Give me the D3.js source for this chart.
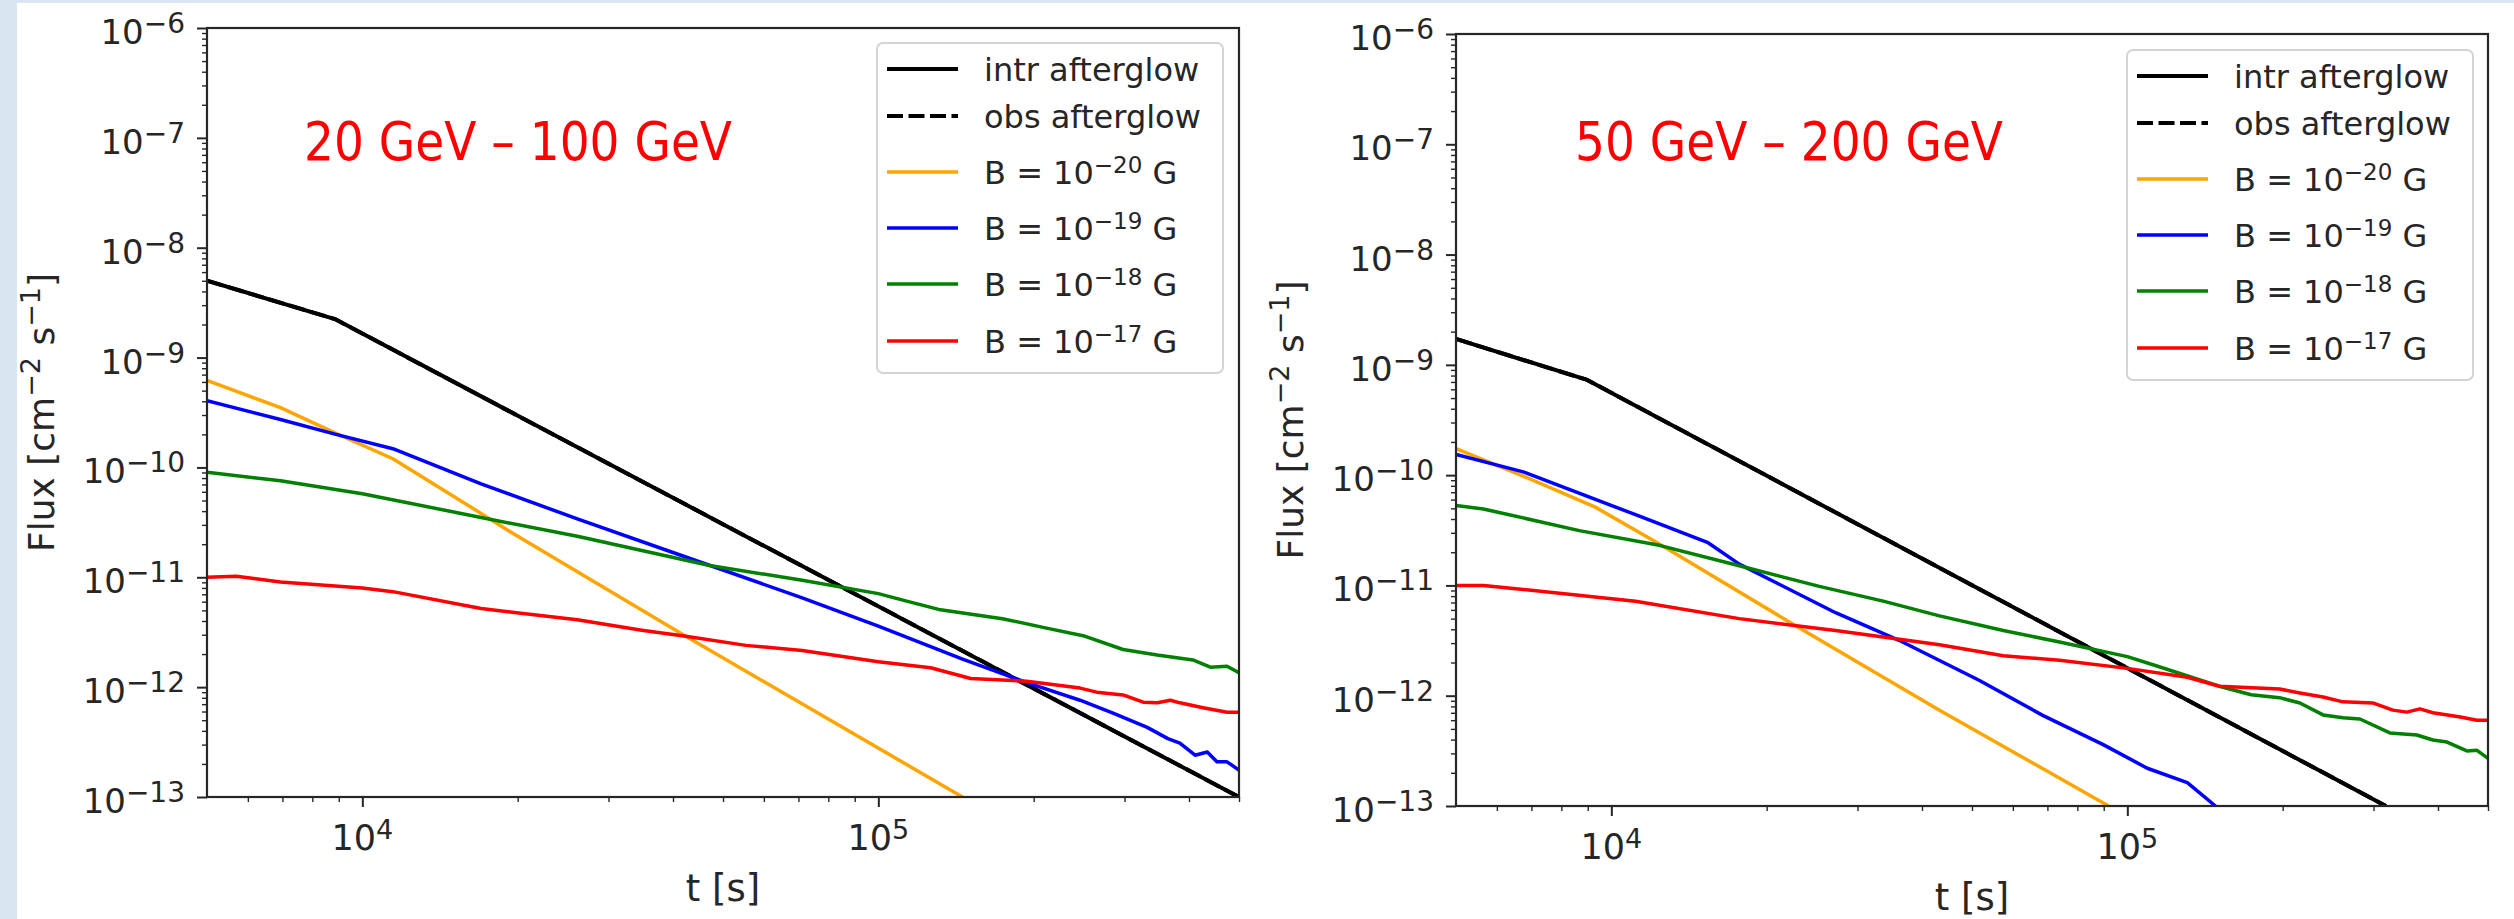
<!DOCTYPE html>
<html>
<head>
<meta charset="utf-8">
<script src="https://cdn.jsdelivr.net/npm/d3@7"></script>
<style>
  body { margin: 0; background: #fff; }
  svg { display: block; }
  text { font-family: "DejaVu Sans", sans-serif; fill: #262626; }
</style>
</head>
<body>
<div id="chart"></div>
<script>
// --- data (t in s, flux in cm^-2 s^-1) ---

// left panel: 20 GeV - 100 GeV
const leftIntrT = [5000, 8850, 500000];
const leftIntrF = [5.0e-9, 2.24e-9, 1.0e-13];
const leftObsT = leftIntrT;
const leftObsF = leftIntrF;
const leftB20T = [5000, 6940, 8850, 11460, 14720, 19600, 42350, 145600];
const leftB20F = [6.2e-10, 3.5e-10, 2.06e-10, 1.2e-10, 5.8e-11, 2.5e-11, 2.9e-12, 1.0e-13];
const leftB19T = [5000, 6940, 8850, 11460, 16990, 26100, 42350, 71200, 100000, 145600, 194000, 246000, 285000, 332000, 364000, 384000, 411000, 434000, 453000, 474000, 500000];
const leftB19F = [4.04e-10, 2.73e-10, 2.01e-10, 1.48e-10, 7.1e-11, 3.4e-11, 1.53e-11, 6.5e-12, 3.6e-12, 1.8e-12, 1.1e-12, 7.6e-13, 5.8e-13, 4.3e-13, 3.4e-13, 3.1e-13, 2.4e-13, 2.57e-13, 2.09e-13, 2.09e-13, 1.76e-13];
const leftB18T = [5000, 6940, 10000, 16990, 26100, 47100, 71200, 100000, 113000, 130900, 174000, 208500, 249400, 298000, 347000, 407000, 440000, 474000, 500000];
const leftB18F = [9.06e-11, 7.55e-11, 5.77e-11, 3.5e-11, 2.36e-11, 1.28e-11, 9.4e-12, 7.1e-12, 6.1e-12, 5.1e-12, 4.2e-12, 3.5e-12, 2.94e-12, 2.2e-12, 1.96e-12, 1.77e-12, 1.52e-12, 1.55e-12, 1.35e-12];
const leftB17T = [5000, 5700, 6940, 10000, 11460, 16990, 26100, 34800, 42350, 55400, 71200, 100000, 126300, 151000, 194000, 246000, 265000, 298000, 326000, 347000, 368000, 384000, 426000, 474000, 500000];
const leftB17F = [1.0e-11, 1.02e-11, 9.06e-12, 8.0e-12, 7.4e-12, 5.2e-12, 4.1e-12, 3.3e-12, 2.9e-12, 2.4e-12, 2.16e-12, 1.7e-12, 1.5e-12, 1.2e-12, 1.13e-12, 9.8e-13, 9.0e-13, 8.5e-13, 7.3e-13, 7.2e-13, 7.6e-13, 7.2e-13, 6.5e-13, 5.9e-13, 5.9e-13];

// right panel: 50 GeV - 200 GeV
const rightIntrT = [5000, 8980, 317000];
const rightIntrF = [1.72e-9, 7.3e-10, 1.0e-13];
const rightObsT = rightIntrT;
const rightObsF = rightIntrF;
const rightB20T = [5000, 6750, 9310, 12390, 22540, 43250, 92000];
const rightB20F = [1.74e-10, 9.8e-11, 5.13e-11, 2.37e-11, 4.43e-12, 7.4e-13, 1.0e-13];
const rightB19T = [5000, 6750, 11140, 15350, 17700, 27200, 36100, 51600, 68700, 89800, 109300, 130700, 148200];
const rightB19F = [1.54e-10, 1.07e-10, 4.38e-11, 2.46e-11, 1.56e-11, 5.66e-12, 3.18e-12, 1.38e-12, 6.6e-13, 3.6e-13, 2.2e-13, 1.63e-13, 1.0e-13];
const rightB18T = [5000, 5650, 8670, 12390, 17700, 25300, 33650, 43250, 57500, 73900, 100000, 113300, 150700, 173800, 197200, 216000, 239500, 261700, 282300, 322700, 364000, 391000, 416500, 455000, 476000, 500000];
const rightB18F = [5.3e-11, 4.94e-11, 3.14e-11, 2.31e-11, 1.51e-11, 9.8e-12, 7.2e-12, 5.3e-12, 3.9e-12, 3.07e-12, 2.26e-12, 1.88e-12, 1.22e-12, 1.02e-12, 9.6e-13, 8.6e-13, 6.7e-13, 6.3e-13, 6.15e-13, 4.6e-13, 4.4e-13, 3.97e-13, 3.8e-13, 3.16e-13, 3.2e-13, 2.7e-13];
const rightB17T = [5000, 5650, 6750, 11140, 17700, 27200, 43250, 57500, 73900, 100000, 130700, 150700, 197200, 216000, 239500, 261700, 299000, 327000, 348000, 369000, 391000, 442000, 476000, 500000];
const rightB17F = [1.0e-11, 1.0e-11, 9.2e-12, 7.2e-12, 5.0e-12, 3.9e-12, 2.9e-12, 2.3e-12, 2.1e-12, 1.77e-12, 1.47e-12, 1.22e-12, 1.15e-12, 1.06e-12, 9.75e-13, 8.8e-13, 8.6e-13, 7.4e-13, 7.1e-13, 7.6e-13, 7.0e-13, 6.4e-13, 6.0e-13, 6.0e-13];

// axes / legend text
const xDomain = [5e3, 5e5];
const yDomain = [1e-13, 1e-6];
const yTickExps = [-13, -12, -11, -10, -9, -8, -7, -6];
const xTickExps = [4, 5];
const seriesNames = ["intr afterglow", "obs afterglow", "-20", "-19", "-18", "-17"];
const seriesColors = ["#000000", "#000000", "#ffa500", "#0000ff", "#008000", "#ff0000"];
const panelTitles = ["20 GeV \u2013 100 GeV", "50 GeV \u2013 200 GeV"];

const svg = d3.select("#chart").append("svg").attr("width", 2514).attr("height", 919);
svg.append("rect").attr("width", 2514).attr("height", 919).attr("fill", "#fff");
// light blue slide border
svg.append("rect").attr("x", 0).attr("y", 0).attr("width", 17).attr("height", 919).attr("fill", "#dae5f2");
svg.append("rect").attr("x", 0).attr("y", 0).attr("width", 2514).attr("height", 3).attr("fill", "#dae5f2");

const minus = "\u2212";

function drawPanel(p, idx) {
    const x = d3.scaleLog().domain(xDomain).range([p.left, p.left + p.width]);
    const y = d3.scaleLog().domain(yDomain).range([p.top + p.height, p.top]);
    const g = svg.append("g");

    const clipId = "clip" + idx;
    g.append("clipPath").attr("id", clipId).append("rect")
        .attr("x", p.left).attr("y", p.top).attr("width", p.width).attr("height", p.height);

    const line = d3.line().x(d => x(d[0])).y(d => y(d[1]));
    const plot = g.append("g").attr("clip-path", `url(#${clipId})`);
    p.series.forEach((s, i) => {
        plot.append("path")
            .datum(d3.zip(s[0], s[1]))
            .attr("d", line)
            .attr("fill", "none")
            .attr("stroke", seriesColors[i])
            .attr("stroke-width", i < 2 ? 4 : 3.5)
            .attr("stroke-linejoin", "round")
            .attr("stroke-dasharray", i === 1 ? "16,5.5" : null);
    });

    // ticks
    const majorY = yTickExps.map(e => Math.pow(10, e));
    const minorY = [];
    yTickExps.slice(0, -1).forEach(e => { for (let m = 2; m < 10; m++) minorY.push(m * Math.pow(10, e)); });
    const majorX = xTickExps.map(e => Math.pow(10, e));
    const minorX = [6e3, 7e3, 8e3, 9e3, 2e4, 3e4, 4e4, 5e4, 6e4, 7e4, 8e4, 9e4, 2e5, 3e5, 4e5, 5e5];

    const styleAxis = (a, w) => {
        a.select(".domain").remove();
        a.selectAll("line").attr("stroke", "#262626").attr("stroke-width", w);
    };
    g.append("g").attr("transform", `translate(${p.left},0)`)
        .call(d3.axisLeft(y).tickValues(majorY).tickSize(10).tickFormat("")).call(a => styleAxis(a, 2));
    g.append("g").attr("transform", `translate(${p.left},0)`)
        .call(d3.axisLeft(y).tickValues(minorY).tickSize(5).tickFormat("")).call(a => styleAxis(a, 1.4));
    g.append("g").attr("transform", `translate(0,${p.top + p.height})`)
        .call(d3.axisBottom(x).tickValues(majorX).tickSize(10).tickFormat("")).call(a => styleAxis(a, 2));
    g.append("g").attr("transform", `translate(0,${p.top + p.height})`)
        .call(d3.axisBottom(x).tickValues(minorX).tickSize(5).tickFormat("")).call(a => styleAxis(a, 1.4));

    // frame
    g.append("rect").attr("x", p.left).attr("y", p.top).attr("width", p.width).attr("height", p.height)
        .attr("fill", "none").attr("stroke", "#262626").attr("stroke-width", 2.2);

    // tick labels
    yTickExps.forEach(e => {
        const t = g.append("text").attr("x", p.left - 22).attr("y", y(Math.pow(10, e)) + 16)
            .attr("text-anchor", "end").attr("font-size", 34);
        t.append("tspan").text("10");
        t.append("tspan").attr("font-size", 28).attr("dy", -11).text(minus + Math.abs(e));
    });
    xTickExps.forEach(e => {
        const t = g.append("text").attr("x", x(Math.pow(10, e))).attr("y", p.top + p.height + 53)
            .attr("text-anchor", "middle").attr("font-size", 35);
        t.append("tspan").text("10");
        t.append("tspan").attr("font-size", 27).attr("dy", -11).text(e);
    });

    // axis titles
    g.append("text").attr("x", p.left + p.width / 2).attr("y", p.top + p.height + 104)
        .attr("text-anchor", "middle").attr("font-size", 37).text("t [s]");
    const yl = g.append("text")
        .attr("transform", `translate(${p.yLabelX},${p.top + p.height / 2}) rotate(-90)`)
        .attr("text-anchor", "middle").attr("font-size", 36);
    yl.append("tspan").text("Flux [cm");
    yl.append("tspan").attr("font-size", 27).attr("dy", -14).text(minus + "2");
    yl.append("tspan").attr("dy", 14).text(" s");
    yl.append("tspan").attr("font-size", 27).attr("dy", -14).text(minus + "1");
    yl.append("tspan").attr("dy", 14).text("]");

    // energy band title
    g.append("text").attr("x", p.titleX).attr("y", 160)
        .attr("font-family", "Lato, 'Open Sans', sans-serif").attr("font-size", 53)
        .attr("textLength", 428).attr("lengthAdjust", "spacingAndGlyphs")
        .style("fill", "#ff0000").text(panelTitles[idx]);

    // legend
    const lg = g.append("g").attr("transform", `translate(${p.legendX},${p.legendY})`);
    lg.append("rect").attr("width", 346).attr("height", 330).attr("rx", 6)
        .attr("fill", "#fff").attr("fill-opacity", 0.8).attr("stroke", "#d4d4d4").attr("stroke-width", 2);
    const rowY = [26, 73, 129, 185, 241, 298];
    seriesNames.forEach((name, i) => {
        lg.append("line").attr("x1", 10).attr("x2", 81).attr("y1", rowY[i]).attr("y2", rowY[i])
            .attr("stroke", seriesColors[i]).attr("stroke-width", i < 2 ? 4 : 3.5)
            .attr("stroke-dasharray", i === 1 ? "16,5.5" : null);
        const t = lg.append("text").attr("x", 107).attr("y", rowY[i] + 12).attr("font-size", 32);
        if (i < 2) {
            t.text(name);
        } else {
            t.append("tspan").text("B = 10");
            t.append("tspan").attr("font-size", 23).attr("dy", -11).text(minus + name.slice(1));
            t.append("tspan").attr("dy", 11).text(" G");
        }
    });
}

const panels = [
    {
        left: 207, top: 28, width: 1032, height: 769, yLabelX: 54, titleX: 304,
        legendX: 877, legendY: 43,
        series: [[leftIntrT, leftIntrF], [leftObsT, leftObsF], [leftB20T, leftB20F],
                 [leftB19T, leftB19F], [leftB18T, leftB18F], [leftB17T, leftB17F]]
    },
    {
        left: 1456, top: 34, width: 1032, height: 772, yLabelX: 1303, titleX: 1575,
        legendX: 2127, legendY: 50,
        series: [[rightIntrT, rightIntrF], [rightObsT, rightObsF], [rightB20T, rightB20F],
                 [rightB19T, rightB19F], [rightB18T, rightB18F], [rightB17T, rightB17F]]
    }
];

panels.forEach(drawPanel);
</script>
</body>
</html>
